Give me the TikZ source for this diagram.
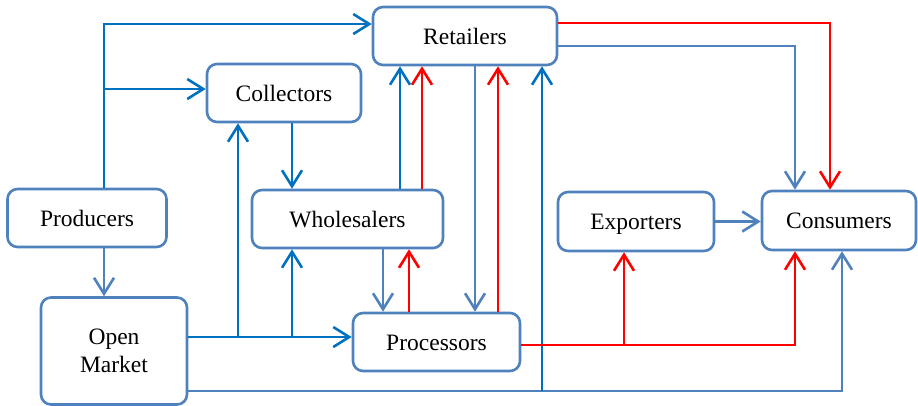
\documentclass[tikz,border=0pt]{standalone}
\usepackage{fontspec}
\setmainfont{Liberation Serif}
\usetikzlibrary{arrows.meta}
\definecolor{dkblue}{HTML}{0070C0}
\definecolor{ltblue}{HTML}{4F81BD}
\definecolor{rdc}{HTML}{FF0000}
\begin{document}
\begin{tikzpicture}[x=1pt,y=-1pt,
  box/.style={draw=ltblue,line width=2.6pt,rounded corners=10pt,fill=white,
    align=center,inner sep=0pt,font=\fontsize{23.5}{28}\selectfont},
  one/.style={box,text height=16pt,text depth=0pt},
  arr/.style={-{Straight Barb[length=16pt,width=20pt]}},
  dk/.style={draw=dkblue,line width=2.6pt,arr},
  lt/.style={draw=ltblue,line width=2.6pt,arr},
  rd/.style={draw=rdc,line width=2.6pt,arr}]
\useasboundingbox (0,0) rectangle (918,405);
\node[one,minimum width=184pt,minimum height=58pt] (ret) at (465,36) {Retailers};
\node[one,minimum width=154pt,minimum height=58pt] (col) at (284,93) {Collectors};
\node[one,minimum width=159pt,minimum height=58pt] (pro) at (87,218) {Producers};
\node[one,minimum width=191pt,minimum height=58pt] (who) at (347.5,219) {Wholesalers};
\node[one,minimum width=156pt,minimum height=59pt] (exp) at (636,221.5) {Exporters};
\node[one,minimum width=154pt,minimum height=59pt] (con) at (839,220.5) {Consumers};
\node[box,minimum width=146pt,minimum height=107pt] (om) at (114,351) {Open\\Market};
\node[one,minimum width=167pt,minimum height=58pt] (prc) at (436.5,342) {Processors};
% producers up
\draw[dk] ([xshift=17pt]pro.north) |- ([yshift=12pt]ret.west);
\coordinate (j1) at (104,89);
\draw[dk] (j1) -- (col.west |- j1);
% producers -> open market
\draw[lt] ([xshift=17pt]pro.south) coordinate (a) -- (a |- om.north);
% collectors -> wholesalers
\draw[dk] ([xshift=8pt]col.south) coordinate (b) -- (b |- who.north);
% wholesalers -> retailers
\draw[dk] ([xshift=52.5pt]who.north) coordinate (c) -- (c |- ret.south);
\draw[rd] ([xshift=74.5pt]who.north) coordinate (c2) -- (c2 |- ret.south);
% retailers -> processors
\draw[lt] ([xshift=10pt]ret.south) coordinate (d) -- (d |- prc.north);
\draw[rd] ([xshift=61.5pt]prc.north) coordinate (e) -- (e |- ret.south);
% wholesalers <-> processors
\draw[lt] ([xshift=35.5pt]who.south) coordinate (f) -- (f |- prc.north);
\draw[rd] ([xshift=-27.5pt]prc.north) coordinate (g) -- (g |- who.south);
% retailers -> consumers
\draw[rd] ([yshift=13pt]ret.east) -| ([xshift=-9pt]con.north);
\draw[lt] ([yshift=-10pt]ret.east) -| ([xshift=-44pt]con.north);
% open market -> processors and branches
\coordinate (h) at (om.east |- 0,337);
\draw[dk] (h) -- (prc.west |- h);
\coordinate (h1) at (238,337);
\draw[dk] (h1) -- (h1 |- col.south);
\coordinate (h2) at (292,337);
\draw[dk] (h2) -- (h2 |- who.south);
% open market bottom -> consumers
\coordinate (q) at (om.east |- 0,391);
\draw[lt] (q) -| ([xshift=3pt]con.south);
\coordinate (k) at (542,391);
\draw[dk] (k) -- (k |- ret.south);
% processors -> consumers / exporters
\draw[rd] ([yshift=-3pt]prc.east) -| ([xshift=-44pt]con.south);
\coordinate (m) at (624,345);
\draw[rd] (m) -- (m |- exp.south);
% exporters -> consumers
\draw[lt] (exp.east) -- (con.west |- exp.east);
\end{tikzpicture}
\end{document}
